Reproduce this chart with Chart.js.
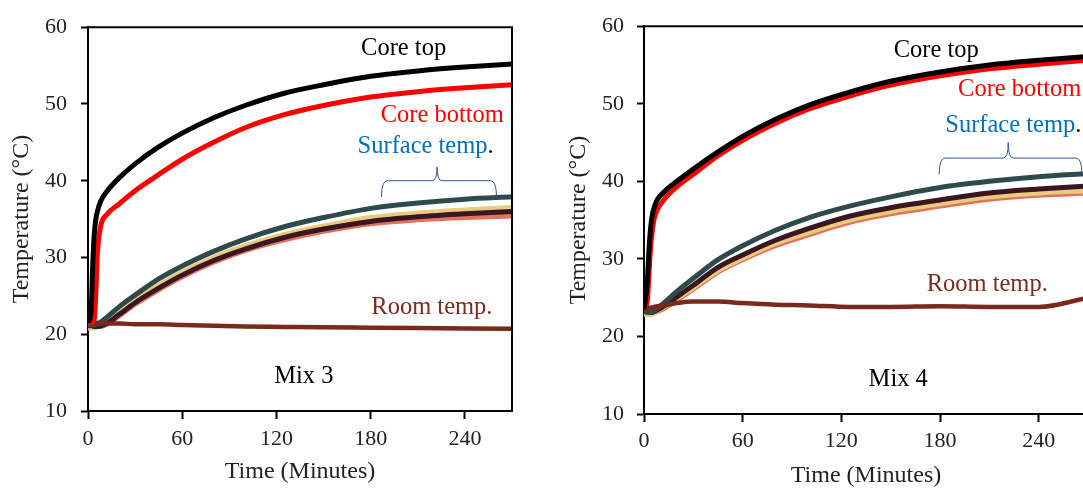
<!DOCTYPE html>
<html>
<head>
<meta charset="utf-8">
<script src="https://cdn.jsdelivr.net/npm/chart.js@4.4.1/dist/chart.umd.min.js"></script>
<style>
  html, body { margin: 0; padding: 0; background: #fff; overflow: hidden; width: 1083px; height: 491px; }
  #mix3 { position: absolute; left: 0; top: 0; }
  #mix4 { position: absolute; left: 540px; top: 0; }
</style>
</head>
<body>
<canvas id="mix3" width="540" height="491"></canvas>
<canvas id="mix4" width="560" height="491"></canvas>
<script>
// time in minutes (shared by every series)
const time = [0, 2, 3, 4, 5, 6, 8, 12, 20, 30, 45, 60, 80, 100, 125, 150, 180, 210, 240, 270];
const xTicks = [0, 60, 120, 180, 240];
const yTicks = [10, 20, 30, 40, 50, 60];

// Mix 3
const m3CoreTop    = [21.5, 23.0, 29.0, 33.0, 35.0, 36.0, 37.3, 38.6, 40.4, 42.2, 44.4, 46.2, 48.2, 49.8, 51.4, 52.5, 53.6, 54.3, 54.8, 55.2];
const m3CoreBottom = [21.5, 21.5, 21.6, 22.0, 25.5, 30.5, 34.0, 35.6, 37.0, 38.7, 40.8, 42.8, 45.0, 46.9, 48.6, 49.8, 50.9, 51.6, 52.1, 52.5];
const m3Slate      = [21.2, 21.2, 21.2, 21.2, 21.3, 21.3, 21.6, 22.2, 23.6, 25.1, 27.2, 28.9, 30.8, 32.4, 34.0, 35.2, 36.4, 37.1, 37.6, 37.9];
const m3Yellow     = [20.8, 20.8, 20.8, 20.8, 20.9, 21.0, 21.2, 21.7, 23.0, 24.5, 26.4, 28.1, 30.0, 31.5, 33.0, 34.1, 35.2, 35.8, 36.2, 36.5];
const m3Maroon     = [21.1, 21.1, 21.1, 21.0, 21.0, 21.0, 21.1, 21.4, 22.6, 24.1, 26.0, 27.7, 29.6, 31.1, 32.6, 33.7, 34.7, 35.3, 35.7, 36.0];
const m3Salmon     = [21.2, 21.2, 21.1, 21.1, 21.0, 21.0, 21.0, 21.3, 22.4, 23.9, 25.8, 27.5, 29.4, 30.9, 32.3, 33.4, 34.4, 34.9, 35.2, 35.4];
const m3Room       = [21.6, 21.5, 21.5, 21.5, 21.5, 21.5, 21.4, 21.4, 21.4, 21.3, 21.3, 21.2, 21.1, 21.0, 20.95, 20.9, 20.85, 20.8, 20.75, 20.7];

// Mix 4
const m4CoreTop    = [23.5, 27.0, 31.0, 34.0, 35.6, 36.5, 37.6, 38.6, 40.0, 41.6, 43.8, 45.8, 48.0, 49.8, 51.5, 52.9, 54.1, 55.0, 55.6, 56.1];
const m4CoreBottom = [23.5, 24.5, 28.0, 31.5, 33.5, 35.0, 36.3, 37.6, 39.3, 40.9, 43.3, 45.3, 47.5, 49.3, 51.0, 52.4, 53.6, 54.5, 55.1, 55.6];
const m4Slate      = [23.2, 23.1, 23.1, 23.1, 23.2, 23.3, 23.6, 24.3, 25.8, 27.5, 29.9, 31.7, 33.7, 35.3, 36.8, 38.0, 39.2, 40.0, 40.6, 41.0];
const m4Yellow     = [22.9, 22.8, 22.8, 22.8, 22.9, 23.0, 23.3, 23.8, 24.9, 26.3, 28.5, 30.1, 32.0, 33.4, 35.0, 36.1, 37.1, 38.0, 38.5, 38.8];
const m4Maroon     = [23.3, 23.2, 23.1, 23.1, 23.1, 23.2, 23.4, 23.9, 25.1, 26.6, 28.9, 30.5, 32.4, 33.9, 35.5, 36.6, 37.6, 38.5, 39.0, 39.4];
const m4Salmon     = [23.0, 22.9, 22.9, 22.9, 23.0, 23.0, 23.2, 23.6, 24.7, 26.1, 28.3, 29.9, 31.7, 33.1, 34.7, 35.8, 36.8, 37.7, 38.2, 38.5];
const m4Room       = [23.7, 23.7, 23.7, 23.7, 23.75, 23.8, 23.9, 24.0, 24.3, 24.5, 24.5, 24.3, 24.1, 24.0, 23.8, 23.8, 23.9, 23.8, 23.8, 25.0];

const FONT = '"Liberation Serif", "Times New Roman", serif';

// top + right sides of the plot box
const frameBorder = {
  id: 'frameBorder',
  afterDatasetsDraw(chart) {
    const {ctx, chartArea: {left, top, right, bottom}} = chart;
    ctx.save();
    ctx.strokeStyle = '#000';
    ctx.lineWidth = 2;
    ctx.beginPath();
    ctx.moveTo(left - 1, top);
    ctx.lineTo(right, top);
    ctx.lineTo(right, bottom);
    ctx.stroke();
    ctx.restore();
  }
};

// text labels + curly brace, placed in data units
const notes = {
  id: 'notes',
  afterDatasetsDraw(chart, args, opts) {
    const {ctx, scales: {x, y}} = chart;
    ctx.save();
    ctx.font = '24.5px ' + FONT;
    ctx.textBaseline = 'alphabetic';
    ctx.textAlign = 'left';
    (opts.labels || []).forEach(l => {
      const total = l.parts.reduce((s, p) => s + ctx.measureText(p.text).width, 0);
      let px = x.getPixelForValue(l.t);
      if (l.align === 'center') px -= total / 2;
      const py = y.getPixelForValue(l.v);
      l.parts.forEach(p => {
        ctx.fillStyle = p.color;
        ctx.fillText(p.text, px, py);
        px += ctx.measureText(p.text).width;
      });
    });
    const b = opts.brace;
    if (b) {
      const xl = x.getPixelForValue(b.t0), xm = x.getPixelForValue(b.tm), xr = x.getPixelForValue(b.t1);
      const yl = y.getPixelForValue(b.vLine), ye = y.getPixelForValue(b.vEnd), yp = y.getPixelForValue(b.vPeak);
      ctx.strokeStyle = '#2F5597';
      ctx.lineWidth = 1;
      ctx.beginPath();
      ctx.moveTo(xl, ye);
      ctx.quadraticCurveTo(xl, yl, xl + 6, yl);
      ctx.lineTo(xm - 5, yl);
      ctx.quadraticCurveTo(xm, yl, xm, yp);
      ctx.quadraticCurveTo(xm, yl, xm + 5, yl);
      ctx.lineTo(xr - 6, yl);
      ctx.quadraticCurveTo(xr, yl, xr, ye);
      ctx.stroke();
    }
    ctx.restore();
  }
};

function series(vals, color, width) {
  return {
    data: time.map((t, i) => ({x: t, y: vals[i]})),
    borderColor: color,
    borderWidth: width,
    pointRadius: 0,
    cubicInterpolationMode: 'monotone',
    fill: false
  };
}

function makeChart(id, s, lay, noteCfg) {
  return new Chart(document.getElementById(id), {
    type: 'line',
    data: {
      // first dataset is drawn on top
      datasets: [
        series(s.coreTop, '#000000', 5),
        series(s.coreBottom, '#FF0000', 5),
        series(s.room, '#7A2A1C', 4.5),
        series(s.slate, '#2F4A4A', 5),
        series(s.maroon, '#3A1622', 5),
        series(s.yellow, '#E8CB7C', 5),
        series(s.salmon, '#E2725B', 5)
      ]
    },
    options: {
      responsive: false,
      animation: false,
      events: [],
      layout: { padding: { left: 0, right: lay.padRight, top: lay.padTop, bottom: 0 } },
      plugins: {
        legend: { display: false },
        tooltip: { enabled: false },
        notes: noteCfg
      },
      scales: {
        x: {
          type: 'linear',
          min: 0,
          max: 270,
          afterFit: sc => { sc.height = lay.xHeight; },
          afterBuildTicks: sc => { sc.ticks = xTicks.map(v => ({value: v})); },
          ticks: { color: '#222', padding: lay.xTickPad, font: { family: FONT, size: 22 }, maxRotation: 0 },
          grid: { drawOnChartArea: false, tickLength: 8, tickWidth: 2, tickColor: '#000' },
          border: { color: '#000', width: 2 },
          title: { display: true, text: 'Time (Minutes)', color: '#222', font: { family: FONT, size: 24 }, padding: { top: 0, bottom: lay.xTitlePad } }
        },
        y: {
          min: 10,
          max: 60,
          afterFit: sc => { sc.width = lay.yWidth; },
          afterBuildTicks: sc => { sc.ticks = yTicks.map(v => ({value: v})); },
          ticks: { color: '#222', padding: lay.yTickPad, font: { family: FONT, size: 22 } },
          grid: { drawOnChartArea: false, tickLength: 7, tickWidth: 2, tickColor: '#000' },
          border: { color: '#000', width: 2 },
          title: { display: true, text: 'Temperature (°C)', color: '#222', font: { family: FONT, size: 24 }, padding: { top: lay.yTitlePad, bottom: 0 } }
        }
      }
    },
    plugins: [frameBorder, notes]
  });
}

makeChart('mix3',
  { coreTop: m3CoreTop, coreBottom: m3CoreBottom, slate: m3Slate, yellow: m3Yellow, maroon: m3Maroon, salmon: m3Salmon, room: m3Room },
  { padRight: 28, padTop: 19, xHeight: 80, yWidth: 88, xTickPad: 7, yTickPad: 14, xTitlePad: 5, yTitlePad: 7 },
  {
    labels: [
      { t: 201, v: 56.35, align: 'center', parts: [{ text: 'Core top', color: '#000' }] },
      { t: 225.6, v: 47.6, align: 'center', parts: [{ text: 'Core bottom', color: '#FF0000' }] },
      { t: 215, v: 43.6, align: 'center', parts: [{ text: 'Surface temp', color: '#0070C0' }, { text: '.', color: '#000' }] },
      { t: 219, v: 22.65, align: 'center', parts: [{ text: 'Room temp.', color: '#7B2C1E' }] },
      { t: 137.4, v: 13.6, align: 'center', parts: [{ text: 'Mix 3', color: '#000' }] }
    ],
    brace: { t0: 186.9, tm: 222.3, t1: 260.1, vLine: 40.0, vEnd: 37.9, vPeak: 41.8 }
  }
);

makeChart('mix4',
  { coreTop: m4CoreTop, coreBottom: m4CoreBottom, slate: m4Slate, yellow: m4Yellow, maroon: m4Maroon, salmon: m4Salmon, room: m4Room },
  { padRight: 12, padTop: 22, xHeight: 77, yWidth: 104, xTickPad: 6, yTickPad: 13, xTitlePad: 1, yTitlePad: 24 },
  {
    labels: [
      { t: 177.7, v: 56.0, align: 'center', parts: [{ text: 'Core top', color: '#000' }] },
      { t: 191, v: 51.0, align: 'left', parts: [{ text: 'Core bottom', color: '#FF0000' }] },
      { t: 183.2, v: 46.4, align: 'left', parts: [{ text: 'Surface temp', color: '#0070C0' }, { text: '.', color: '#000' }] },
      { t: 208.7, v: 25.8, align: 'center', parts: [{ text: 'Room temp.', color: '#7B2C1E' }] },
      { t: 154.6, v: 13.6, align: 'center', parts: [{ text: 'Mix 4', color: '#000' }] }
    ],
    brace: { t0: 179.5, tm: 221.5, t1: 266.3, vLine: 43.0, vEnd: 40.9, vPeak: 45.0 }
  }
);
</script>
</body>
</html>
